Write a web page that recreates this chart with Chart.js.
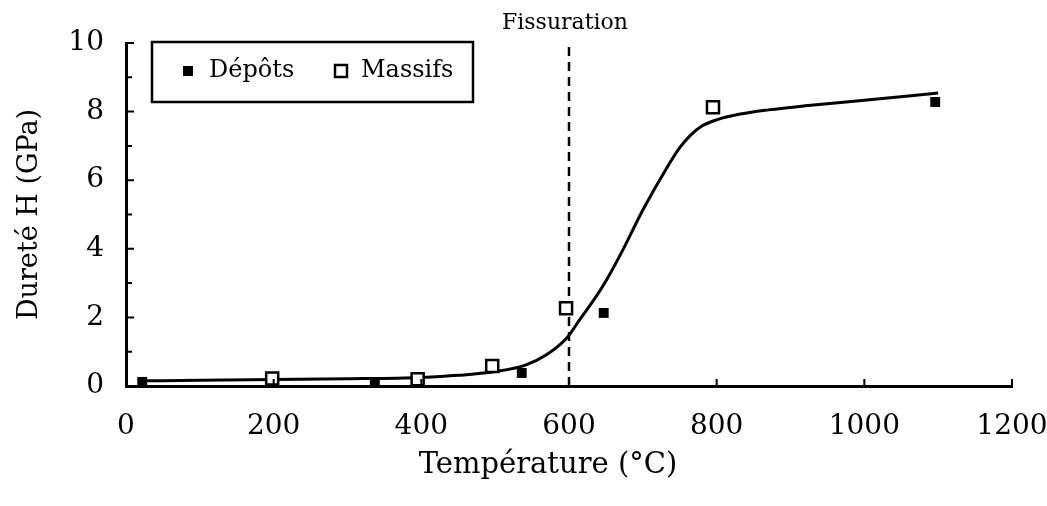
<!DOCTYPE html>
<html><head><meta charset="utf-8">
<script src="https://cdn.jsdelivr.net/npm/chart.js@4.4.0/dist/chart.umd.min.js"></script>
<style>html,body{margin:0;padding:0;background:#fff;}#wrap{width:1047px;height:506px;position:relative;}</style>
</head><body><div id="wrap"><canvas id="c" width="1047" height="506"></canvas></div>
<script>
// ---- data ----
const depotsT = [22, 337, 536, 647, 1096];
const depotsH = [0.12, 0.09, 0.38, 2.13, 8.28];
const massifsT = [198, 395, 496, 596, 795];
const massifsH = [0.22, 0.20, 0.58, 2.27, 8.13];
const curveT = [25, 100, 200, 300, 400, 450, 500, 540, 570, 597, 615, 638, 651, 673, 700, 733, 750, 764, 780, 800, 830, 870, 920, 1000, 1100];
const curveH = [0.15, 0.17, 0.19, 0.21, 0.25, 0.31, 0.42, 0.60, 0.92, 1.40, 1.95, 2.65, 3.10, 3.97, 5.13, 6.38, 6.95, 7.30, 7.58, 7.76, 7.92, 8.05, 8.17, 8.33, 8.54];
const xTickValues = [0, 200, 400, 600, 800, 1000, 1200];
const yTickValues = [0, 2, 4, 6, 8, 10];
const yMinorTickValues = [1, 3, 5, 7, 9];
const fissurationT = 600;
const seriesLabels = ['Dépôts', 'Massifs'];
const xTitle = 'Température (°C)';
const yTitle = 'Dureté H (GPa)';
const fissLabel = 'Fissuration';

const FONT = '"DejaVu Serif", "Liberation Serif", serif';
const pts = (xs, ys) => xs.map((x, i) => ({x, y: ys[i]}));

const decorPlugin = {
  id: 'decor',
  beforeDatasetsDraw(chart) {
    const {ctx, scales: {x, y}} = chart;
    const px = x.getPixelForValue(fissurationT);
    ctx.save();
    ctx.strokeStyle = '#000';
    ctx.lineWidth = 2.5;
    ctx.setLineDash([9, 6]);
    ctx.beginPath();
    ctx.moveTo(px, y.getPixelForValue(0));
    ctx.lineTo(px, y.getPixelForValue(10) - 1);
    ctx.stroke();
    ctx.setLineDash([]);
    ctx.fillStyle = '#000';
    ctx.font = '22px ' + FONT;
    ctx.textAlign = 'center';
    ctx.textBaseline = 'middle';
    ctx.fillText(fissLabel, px - 4, 23);
    ctx.restore();
  },
  afterDraw(chart) {
    const {ctx, scales: {x, y}, chartArea: ca} = chart;
    ctx.save();
    ctx.strokeStyle = '#000';
    ctx.lineWidth = 2;
    ctx.beginPath();
    xTickValues.forEach(v => {
      if (v === 0) return;
      const p = x.getPixelForValue(v);
      ctx.moveTo(p, ca.bottom); ctx.lineTo(p, ca.bottom - 7);
    });
    yTickValues.forEach(v => {
      if (v === 0) return;
      const p = y.getPixelForValue(v);
      ctx.moveTo(ca.left, p); ctx.lineTo(ca.left + 8, p);
    });
    yMinorTickValues.forEach(v => {
      const p = y.getPixelForValue(v);
      ctx.moveTo(ca.left, p); ctx.lineTo(ca.left + 6, p);
    });
    ctx.stroke();
    // x axis title
    ctx.fillStyle = '#000';
    ctx.font = '29px ' + FONT;
    ctx.textAlign = 'center';
    ctx.textBaseline = 'middle';
    ctx.fillText(xTitle, ca.left + 422, ca.bottom + 79);
    // legend
    const bx = ca.left + 26, by = ca.top - 1, bw = 321, bh = 60;
    ctx.fillStyle = '#fff';
    ctx.fillRect(bx, by, bw, bh);
    ctx.lineWidth = 2.5;
    ctx.strokeRect(bx, by, bw, bh);
    const cy = by + 29;
    ctx.fillStyle = '#000';
    ctx.fillRect(bx + 31, cy - 5, 10, 10);
    ctx.lineWidth = 2.5;
    ctx.strokeRect(bx + 183, cy - 6, 12, 12);
    ctx.font = '24px ' + FONT;
    ctx.textAlign = 'left';
    ctx.textBaseline = 'middle';
    ctx.fillText(seriesLabels[0], bx + 57, cy);
    ctx.fillText(seriesLabels[1], bx + 209, cy);
    ctx.restore();
  }
};

new Chart(document.getElementById('c'), {
  type: 'scatter',
  data: {
    datasets: [
      { label: seriesLabels[0], data: pts(depotsT, depotsH), pointStyle: 'rect', pointRadius: 7,
        backgroundColor: '#000', borderColor: '#000', borderWidth: 0 },
      { label: seriesLabels[1], data: pts(massifsT, massifsH), pointStyle: 'rect', pointRadius: 8.5,
        backgroundColor: '#fff', borderColor: '#000', borderWidth: 2.5 },
      { label: 'fit', data: pts(curveT, curveH), showLine: true, pointRadius: 0,
        borderColor: '#000', borderWidth: 3, cubicInterpolationMode: 'monotone', fill: false }
    ]
  },
  options: {
    responsive: false,
    devicePixelRatio: 1,
    animation: false,
    layout: { padding: { top: 43, right: 35, left: 0, bottom: 0 } },
    plugins: { legend: { display: false }, tooltip: { enabled: false } },
    scales: {
      x: {
        type: 'linear', min: 0, max: 1200,
        ticks: { stepSize: 200, color: '#000', font: { family: FONT, size: 28 }, padding: 24, maxRotation: 0,
                 callback: v => String(v) },
        grid: { display: false, drawTicks: false },
        border: { display: true, color: '#000', width: 3 },
        title: { display: false, text: xTitle },
        afterFit: s => { s.height = 120; s.paddingRight = 0; s.paddingLeft = 0; }
      },
      y: {
        min: 0, max: 10,
        ticks: { stepSize: 2, color: '#000', font: { family: FONT, size: 28 }, padding: 22, callback: v => String(v) },
        grid: { display: false, drawTicks: false },
        border: { display: true, color: '#000', width: 3 },
        title: { display: true, text: yTitle, color: '#000', font: { family: FONT, size: 27 }, padding: { top: 14, bottom: 0 } },
        afterFit: s => { s.width = 126; s.paddingTop = 0; s.paddingBottom = 0; }
      }
    }
  },
  plugins: [decorPlugin]
});
</script></body></html>
